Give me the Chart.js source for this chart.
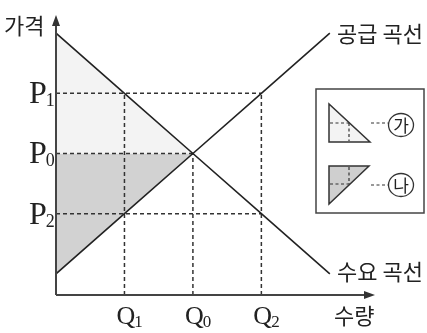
<!DOCTYPE html>
<html><head><meta charset="utf-8">
<script src="https://cdn.jsdelivr.net/npm/chart.js@4/dist/chart.umd.min.js"></script>
<style>html,body{margin:0;padding:0;background:#fff}#wrap{width:427px;height:333px;position:relative}</style>
</head><body><div id="wrap"><canvas id="c"></canvas></div>
<script>
// quantities (x) and prices (y) in chart units
const quantities = [0, 1, 2, 3, 4];
const demandPrice = [4.35, 3.35, 2.35, 1.35, 0.35];
const supplyPrice = [0.35, 1.35, 2.35, 3.35, 4.35];
const qTickValues = [1, 2, 3];
const qTickNames = ['Q', 'Q', 'Q'];
const qTickSubs = ['1', '0', '2'];
const pTickValues = [3.35, 2.35, 1.35];
const pTickNames = ['P', 'P', 'P'];
const pTickSubs = ['1', '0', '2'];
const axisMax = { x: 4.66, y: 4.65 };
const labels = { yAxis: '가격', xAxis: '수량', supply: '공급 곡선', demand: '수요 곡선', legendA: '가', legendB: '나' };

const pts = (xs, ys) => xs.map((x, i) => ({ x, y: ys[i] }));
const q0 = qTickValues[1], p0 = pTickValues[1];
const q1 = qTickValues[0], q2 = qTickValues[2];
const p1 = pTickValues[0], p2 = pTickValues[2];

const dashStyle = { borderColor: '#333', borderWidth: 1.5, borderDash: [4, 3], pointRadius: 0, showLine: true, fill: false, order: 5 };
const guides = [
  [{ x: 0, y: p1 }, { x: q2, y: p1 }],
  [{ x: 0, y: p0 }, { x: q0, y: p0 }],
  [{ x: 0, y: p2 }, { x: q2, y: p2 }],
  [{ x: q1, y: 0 }, { x: q1, y: p1 }],
  [{ x: q0, y: 0 }, { x: q0, y: p0 }],
  [{ x: q2, y: 0 }, { x: q2, y: p1 }]
].map(d => Object.assign({ data: d }, dashStyle));

const KFONT = '"Noto Sans CJK KR", "Noto Sans", sans-serif';
const SFONT = '"Liberation Serif", "DejaVu Serif", serif';

const decor = {
  id: 'decor',
  afterDatasetsDraw(chart) {
    const ctx = chart.ctx, a = chart.chartArea, xs = chart.scales.x, ys = chart.scales.y;
    ctx.save();
    // axes
    ctx.strokeStyle = '#444'; ctx.fillStyle = '#333'; ctx.lineWidth = 2;
    ctx.beginPath(); ctx.moveTo(a.left, a.bottom); ctx.lineTo(a.left, a.top + 6); ctx.stroke();
    ctx.beginPath(); ctx.moveTo(a.left, a.bottom); ctx.lineTo(a.right - 6, a.bottom); ctx.stroke();
    ctx.beginPath(); ctx.moveTo(a.left, a.top); ctx.lineTo(a.left - 4, a.top + 11); ctx.lineTo(a.left + 4, a.top + 11); ctx.closePath(); ctx.fill();
    ctx.beginPath(); ctx.moveTo(a.right, a.bottom); ctx.lineTo(a.right - 11, a.bottom - 4); ctx.lineTo(a.right - 11, a.bottom + 4); ctx.closePath(); ctx.fill();
    // tick labels
    ctx.fillStyle = '#222';
    ctx.textBaseline = 'alphabetic'; ctx.textAlign = 'left';
    pTickValues.forEach((v, i) => {
      const y = ys.getPixelForValue(v);
      ctx.font = '32px ' + SFONT;
      const w = ctx.measureText(pTickNames[i]).width;
      ctx.fillText(pTickNames[i], 29, y + 10);
      ctx.font = '18px ' + SFONT;
      ctx.fillText(pTickSubs[i], 29 + w - 1, y + 13);
    });
    qTickValues.forEach((v, i) => {
      const x = xs.getPixelForValue(v);
      ctx.font = '26px ' + SFONT;
      const w = ctx.measureText(qTickNames[i]).width;
      ctx.fillText(qTickNames[i], x - 8, 324);
      ctx.font = '17px ' + SFONT;
      ctx.fillText(qTickSubs[i], x - 8 + w - 1, 327);
    });
    // axis titles and curve names
    ctx.font = '22px ' + KFONT; ctx.textBaseline = 'middle';
    ctx.textAlign = 'left'; ctx.fillText(labels.yAxis, 4, 26);
    ctx.font = '22px ' + KFONT;
    ctx.fillText(labels.xAxis, 334, 316);
    ctx.fillText(labels.supply, 337, 34);
    ctx.fillText(labels.demand, 337, 272);
    // legend box
    ctx.strokeStyle = '#444'; ctx.lineWidth = 1.5;
    ctx.strokeRect(316, 89, 108, 124);
    const tri = (pts, fill) => {
      ctx.beginPath(); ctx.moveTo(pts[0][0], pts[0][1]);
      for (let i = 1; i < pts.length; i++) ctx.lineTo(pts[i][0], pts[i][1]);
      ctx.closePath(); ctx.fillStyle = fill; ctx.fill();
      ctx.strokeStyle = '#333'; ctx.lineWidth = 1.5; ctx.setLineDash([]); ctx.stroke();
    };
    const dash = (x1, y1, x2, y2) => {
      ctx.beginPath(); ctx.setLineDash([3, 2.5]); ctx.strokeStyle = '#333'; ctx.lineWidth = 1.2;
      ctx.moveTo(x1, y1); ctx.lineTo(x2, y2); ctx.stroke(); ctx.setLineDash([]);
    };
    tri([[329, 104], [329, 142], [370, 142]], '#f3f3f3');
    dash(330, 123, 349, 123); dash(349, 123, 349, 141);
    tri([[329, 166], [369, 166], [329, 204]], '#cfcfcf');
    dash(330, 184, 350, 184); dash(349, 167, 349, 184);
    dash(371, 123, 388, 123); dash(371, 185, 388, 185);
    const circ = (cx, cy, t) => {
      ctx.beginPath(); ctx.ellipse(cx, cy, 12.5, 11.5, 0, 0, Math.PI * 2);
      ctx.strokeStyle = '#333'; ctx.lineWidth = 1.3; ctx.stroke();
      ctx.fillStyle = '#222'; ctx.font = '17px ' + KFONT; ctx.textAlign = 'center'; ctx.textBaseline = 'middle';
      ctx.fillText(t, cx, cy + 1);
    };
    circ(401, 125, labels.legendA);
    circ(401, 185, labels.legendB);
    ctx.restore();
  }
};

new Chart(document.getElementById('c'), {
  type: 'scatter',
  data: {
    datasets: [
      { data: pts(quantities.slice(0, 3), demandPrice.slice(0, 3)), showLine: true, pointRadius: 0, borderWidth: 0, backgroundColor: '#f3f3f3', fill: { value: p0 }, order: 10 },
      { data: pts(quantities.slice(0, 3), supplyPrice.slice(0, 3)), showLine: true, pointRadius: 0, borderWidth: 0, backgroundColor: '#d2d2d2', fill: { value: p0 }, order: 10 },
      ...guides,
      { data: pts(quantities, demandPrice), showLine: true, pointRadius: 0, borderColor: '#222', borderWidth: 1.6, fill: false, order: 0 },
      { data: pts(quantities, supplyPrice), showLine: true, pointRadius: 0, borderColor: '#222', borderWidth: 1.6, fill: false, order: 0 }
    ]
  },
  options: {
    responsive: true, maintainAspectRatio: false, animation: false,
    layout: { padding: { left: 56, top: 15, right: 52, bottom: 38 } },
    plugins: { legend: { display: false }, tooltip: { enabled: false } },
    scales: {
      x: { type: 'linear', min: 0, max: axisMax.x, display: false },
      y: { type: 'linear', min: 0, max: axisMax.y, display: false }
    }
  },
  plugins: [decor]
});
</script></body></html>
